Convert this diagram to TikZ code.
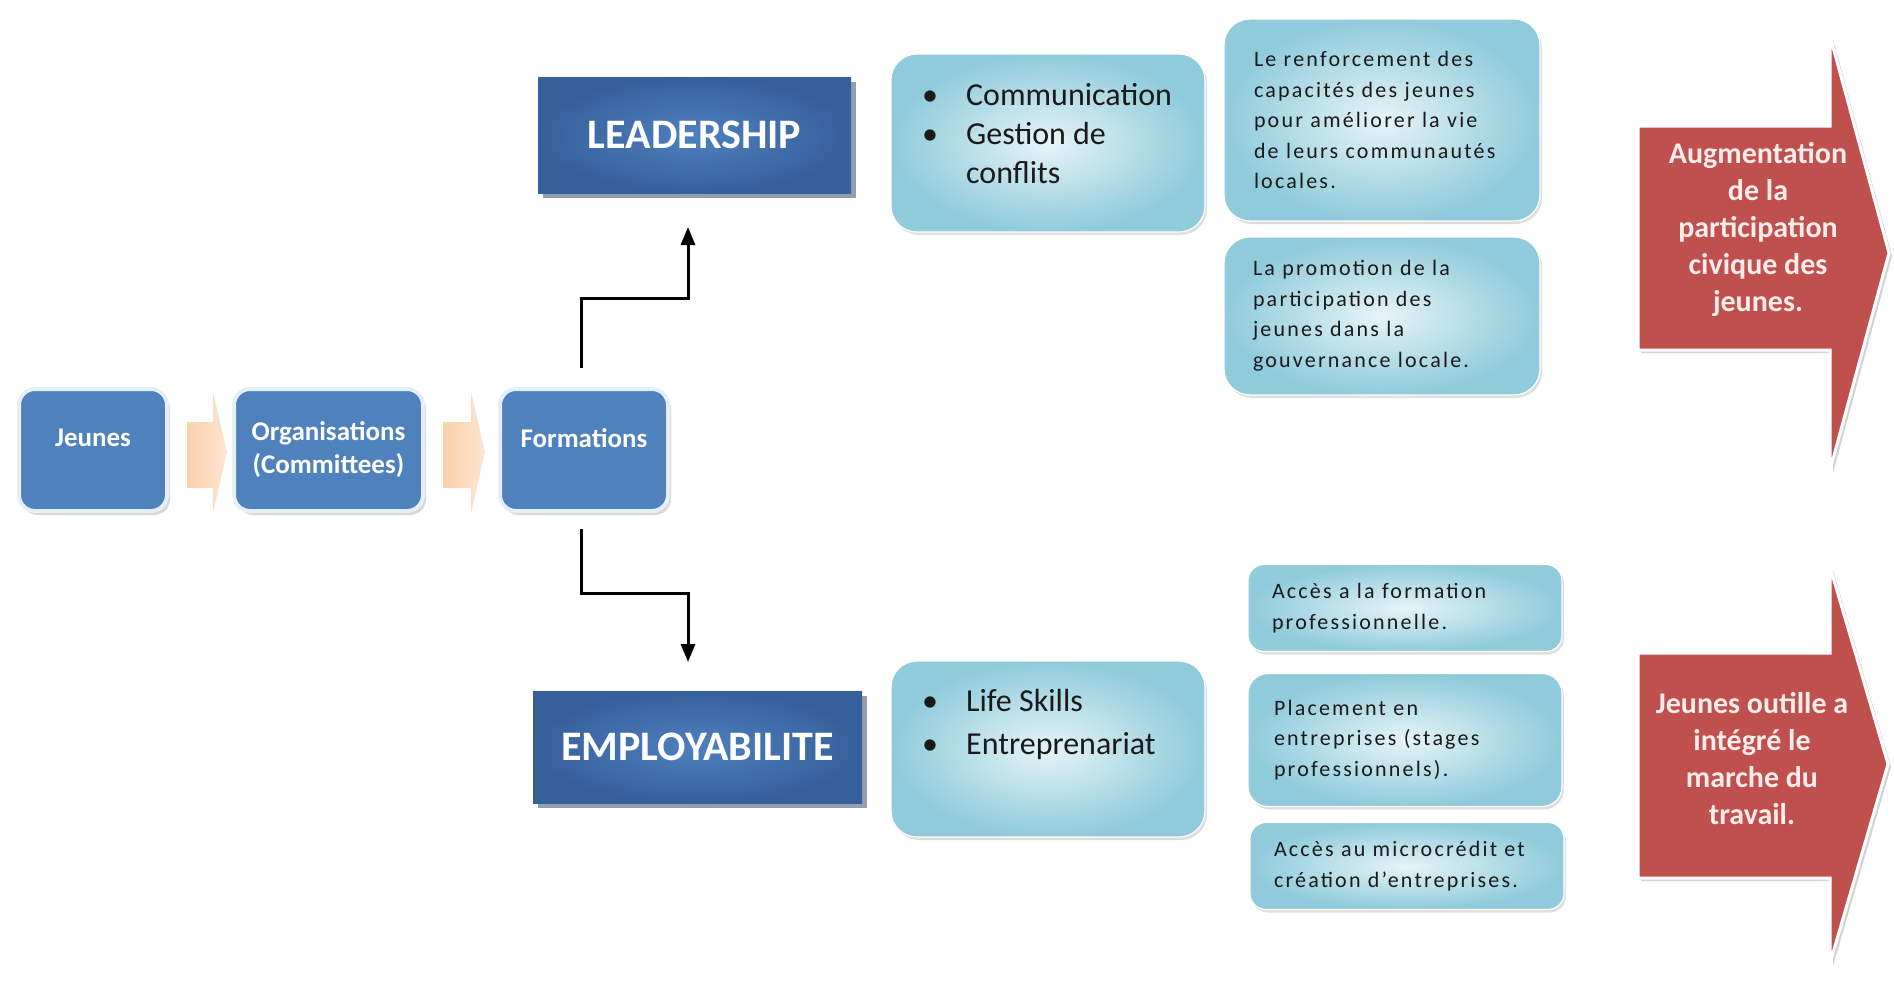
\documentclass[tikz,border=0pt]{standalone}
\usepackage{fontspec}
\setmainfont{Carlito}
\newfontfamily\spacedfont[LetterSpace=10]{Carlito}
\usetikzlibrary{arrows.meta,shadows}
\definecolor{offblue}{HTML}{4F81BD}
\definecolor{glow}{HTML}{E6EEF8}
\definecolor{darkin}{HTML}{4E80BF}
\definecolor{darkout}{HTML}{36609A}
\definecolor{darkshadow}{HTML}{243F60}
\definecolor{tealin}{HTML}{E6F4F8}
\definecolor{tealout}{HTML}{8FCBDA}
\definecolor{redarrow}{HTML}{C0504D}
\definecolor{redtext}{HTML}{FCEDEC}
\definecolor{peachA}{HTML}{FAD0AC}
\definecolor{peachB}{HTML}{FDE6D2}
\definecolor{boxtext}{HTML}{1A1A1A}
\tikzset{
  bluebox/.style={rounded corners=16pt, fill=offblue, draw=glow, line width=4pt,
    text=white, font=\bfseries\fontsize{27}{33}\selectfont, align=center,
    minimum height=122pt, inner sep=0pt, outer sep=0pt,
    drop shadow={shadow xshift=3pt, shadow yshift=-4pt, fill=black!30}},
  onelabel/.style={text depth=24pt},
  darkbox/.style={inner color=darkin, outer color=darkout, text=white,
    font=\bfseries\fontsize{42}{50}\selectfont, inner sep=0pt, outer sep=0pt,
    drop shadow={shadow xshift=5pt, shadow yshift=-5pt, fill=darkshadow}},
  tealbox/.style={rounded corners=26pt, inner color=tealin, outer color=tealout,
    draw=white, line width=1.2pt, inner ysep=0pt, outer sep=0pt,
    drop shadow={shadow xshift=2pt, shadow yshift=-3pt, fill=black!25}},
  smalltext/.style={text=boxtext, align=left, font=\spacedfont\fontsize{22}{30.5}\selectfont},
  bullettext/.style={text=boxtext, align=left, anchor=north west, inner sep=0pt},
  peach/.style={left color=peachA, right color=peachB, draw=none},
  redshape/.style={fill=redarrow, draw=white, line width=3pt,
    drop shadow={shadow xshift=3pt, shadow yshift=-3pt, fill=black!35}},
  redlabel/.style={text=redtext, align=center, font=\bfseries\fontsize{30}{37}\selectfont},
  conn/.style={line width=3pt, -{Triangle[width=14pt,length=18pt]}},
}
\newcommand{\bul}{\makebox[44pt][l]{\textbullet}}
\begin{document}
\begin{tikzpicture}[x=1pt,y=-1pt]
\useasboundingbox (0,0) rectangle (1894,998);

% small peach arrows (behind boxes)
\path[peach] (187,422) -- (213,422) -- (213,392) -- (227,452) -- (213,513) -- (213,488) -- (187,488) -- cycle;
\path[peach] (443,422) -- (471,422) -- (471,392) -- (485,452) -- (471,513) -- (471,488) -- (443,488) -- cycle;

% left chain
\node[bluebox, onelabel, minimum width=148pt] (jeunes) at (93,450) {Jeunes};
\node[bluebox, minimum width=189pt] (org) at (328.5,450) {Organisations\\(Committees)};
\node[bluebox, onelabel, minimum width=168pt] (formations) at (584,450) {Formations};

% dark boxes
\node[darkbox, minimum width=313pt, minimum height=116pt] (leadership) at (694.5,135) {LEADERSHIP};
\node[darkbox, minimum width=329pt, minimum height=112pt] (employ) at (697.5,747) {EMPLOYABILITE};

% connectors
\draw[conn, shorten <=21pt, shorten >=34pt] ([xshift=-3pt]formations.north) -- ++(0,-91) -| ([xshift=-6.5pt]leadership.south);
\draw[conn, shorten <=18pt, shorten >=29pt] ([xshift=-3pt]formations.south) -- ++(0,82) -| ([xshift=-9.5pt]employ.north);

% bullet boxes
\node[tealbox, minimum width=314pt, minimum height=178pt] (skillsL) at (1048,143) {};
\node[bullettext, font=\fontsize{32}{39}\selectfont] (skillsLt) at (922,83)
  {\bul Communication\\\bul Gestion de\\\hspace*{44pt}conflits};
\node[tealbox, minimum width=314pt, minimum height=176pt] (skillsE) at (1048,749) {};
\node[bullettext, font=\fontsize{32}{43}\selectfont] (skillsEt) at (922,689)
  {\bul Life Skills\\\bul Entreprenariat};

% leadership outcomes
\node[tealbox, smalltext, minimum width=316pt, minimum height=202pt, inner xsep=30pt, text width=256pt] (l1) at (1382,120)
  {Le renforcement des\\capacités des jeunes\\pour améliorer la vie\\de leurs communautés\\locales.};
\node[tealbox, smalltext, minimum width=316pt, minimum height=158pt, inner xsep=29pt, text width=258pt] (l2) at (1382,316)
  {La promotion de la\\participation des\\jeunes dans la\\gouvernance locale.};

% employability outcomes
\node[tealbox, smalltext, minimum width=314pt, minimum height=87pt, inner xsep=24pt, text width=266pt, rounded corners=16pt] (e1) at (1405,608)
  {Accès a la formation\\professionnelle.};
\node[tealbox, smalltext, minimum width=314pt, minimum height=133pt, inner xsep=26pt, text width=262pt, rounded corners=20pt] (e2) at (1405,740)
  {Placement en\\entreprises (stages\\professionnels).};
\node[tealbox, smalltext, minimum width=314pt, minimum height=87pt, inner xsep=24pt, text width=266pt, rounded corners=16pt] (e3) at (1407,866)
  {Accès au microcrédit et\\création d’entreprises.};

% red result arrows
\path[redshape] (1638,126) -- (1830,126) -- (1830,36) -- (1889,253) -- (1830,470) -- (1830,350) -- (1638,350) -- cycle;
\node[redlabel] (res1) at (1758,229) {Augmentation\\de la\\participation\\civique des\\jeunes.};
\path[redshape] (1638,653) -- (1830,653) -- (1830,567) -- (1888,764) -- (1830,963) -- (1830,878) -- (1638,878) -- cycle;
\node[redlabel] (res2) at (1752,759) {Jeunes outille a\\intégré le\\marche du\\travail.};
\end{tikzpicture}
\end{document}
